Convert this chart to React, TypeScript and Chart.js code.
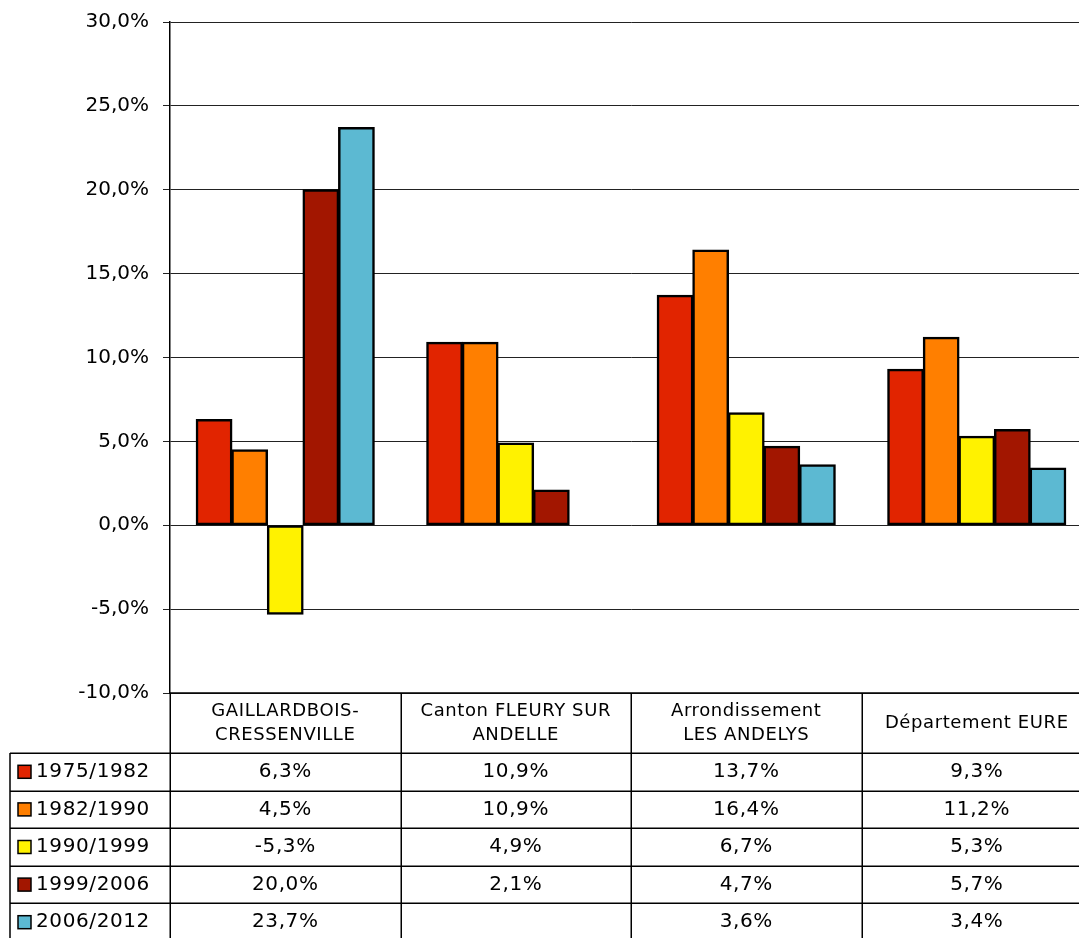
import React, { useEffect, useRef } from 'react';
import { Chart, registerables } from 'chart.js';

Chart.register(...registerables);

const categories: string[][] = [
  ['GAILLARDBOIS-', 'CRESSENVILLE'],
  ['Canton FLEURY SUR', 'ANDELLE'],
  ['Arrondissement', 'LES ANDELYS'],
  ['Département EURE'],
];
const periods = ['1975/1982', '1982/1990', '1990/1999', '1999/2006', '2006/2012'];
const s1975_1982 = [6.3, 10.9, 13.7, 9.3];
const s1982_1990 = [4.5, 10.9, 16.4, 11.2];
const s1990_1999 = [-5.3, 4.9, 6.7, 5.3];
const s1999_2006 = [20.0, 2.1, 4.7, 5.7];
const s2006_2012 = [23.7, null, 3.6, 3.4];
const seriesValues = [s1975_1982, s1982_1990, s1990_1999, s1999_2006, s2006_2012];
const seriesColors = ['#E12400', '#FF7F00', '#FFF200', '#A21600', '#5CB9D2'];
const yMin = -10;
const yMax = 30;
const yStep = 5;

const fmt = (v: number) => v.toFixed(1).replace('.', ',') + '%';

const FONT = '"DejaVu Sans", Verdana, sans-serif';

const tablePlugin = {
  id: 'dataTable',
  afterDraw(chart: any) {
    const { ctx, chartArea } = chart;
    const left = chartArea.left;
    const right = chartArea.right;
    const n = categories.length;
    const colW = (right - left) / n;
    const headerTop = chartArea.bottom;
    const headerH = 60;
    const headerBottom = headerTop + headerH;
    const rowH = 37.6;
    const legendLeft = 10;
    const tableBottom = headerBottom + rowH * periods.length;

    ctx.save();
    ctx.strokeStyle = '#000';
    ctx.lineWidth = 1.5;
    ctx.beginPath();
    ctx.moveTo(left, headerTop);
    ctx.lineTo(right, headerTop);
    for (let k = 0; k <= periods.length; k++) {
      const y = Math.round(headerBottom + k * rowH) + 0.25;
      ctx.moveTo(legendLeft, y);
      ctx.lineTo(right, y);
    }
    ctx.moveTo(legendLeft, headerBottom);
    ctx.lineTo(legendLeft, tableBottom);
    for (let i = 0; i <= n; i++) {
      const x = Math.round(left + i * colW) + 0.25;
      ctx.moveTo(x, headerTop);
      ctx.lineTo(x, tableBottom);
    }
    ctx.stroke();

    ctx.fillStyle = '#000';
    ctx.textBaseline = 'middle';
    ctx.textAlign = 'center';
    try { (ctx as any).letterSpacing = '0.6px'; } catch (e) {}

    ctx.font = `18px ${FONT}`;
    categories.forEach((lines, i) => {
      const cx = left + (i + 0.5) * colW;
      const lh = 24;
      const cy = headerTop + headerH / 2;
      lines.forEach((t, j) => {
        const y = cy + (j - (lines.length - 1) / 2) * lh;
        ctx.fillText(t, cx, y);
      });
    });

    ctx.font = `20px ${FONT}`;
    seriesValues.forEach((vals, r) => {
      const cy = headerBottom + (r + 0.5) * rowH;
      vals.forEach((v, i) => {
        if (v === null || v === undefined) return;
        const cx = left + (i + 0.5) * colW;
        ctx.fillText(fmt(v as number), cx, cy);
      });
      ctx.fillStyle = seriesColors[r];
      ctx.fillRect(18, cy - 6.5, 13, 13);
      ctx.strokeStyle = '#000';
      ctx.lineWidth = 1.5;
      ctx.strokeRect(18, cy - 6.5, 13, 13);
      ctx.fillStyle = '#000';
      ctx.textAlign = 'left';
      ctx.fillText(periods[r], 36, cy);
      ctx.textAlign = 'center';
    });
    ctx.restore();
  },
};

export default function App() {
  const ref = useRef<HTMLCanvasElement | null>(null);

  useEffect(() => {
    if (!ref.current) return;
    const chart = new Chart(ref.current, {
      type: 'bar',
      data: {
        labels: categories.map((c) => c.join(' ')),
        datasets: periods.map((p, i) => ({
          label: p,
          data: seriesValues[i] as any,
          backgroundColor: seriesColors[i],
          borderColor: '#000',
          borderWidth: 2.5,
          borderSkipped: false,
          inflateAmount: 0.6,
          barPercentage: 1,
          categoryPercentage: 0.772,
        })),
      },
      options: {
        responsive: false,
        animation: false,
        events: [],
        layout: { padding: { top: 22, bottom: 245, left: 0, right: 0 } },
        plugins: {
          legend: { display: false },
          tooltip: { enabled: false },
          title: { display: false },
        },
        scales: {
          x: {
            display: false,
            offset: true,
          },
          y: {
            min: yMin,
            max: yMax,
            afterFit: (s: any) => {
              s.width = 170;
              s.paddingTop = 0;
              s.paddingBottom = 0;
            },
            ticks: {
              stepSize: yStep,
              color: '#000',
              padding: 14,
              font: { family: FONT, size: 20 },
              callback: (v: any) => fmt(Number(v)),
            },
            grid: {
              color: '#222',
              lineWidth: 1,
              tickLength: 7,
              drawTicks: true,
              tickColor: '#222',
            },
            border: { color: '#000', width: 1.5 },
          },
        },
      },
      plugins: [tablePlugin],
    });
    return () => chart.destroy();
  }, []);

  return (
    <div
      style={{
        position: 'absolute',
        left: 0,
        top: 0,
        width: 1079,
        height: 938,
        overflow: 'hidden',
        background: '#fff',
      }}
    >
      <canvas ref={ref} width={1092} height={938} style={{ display: 'block' }} />
    </div>
  );
}
